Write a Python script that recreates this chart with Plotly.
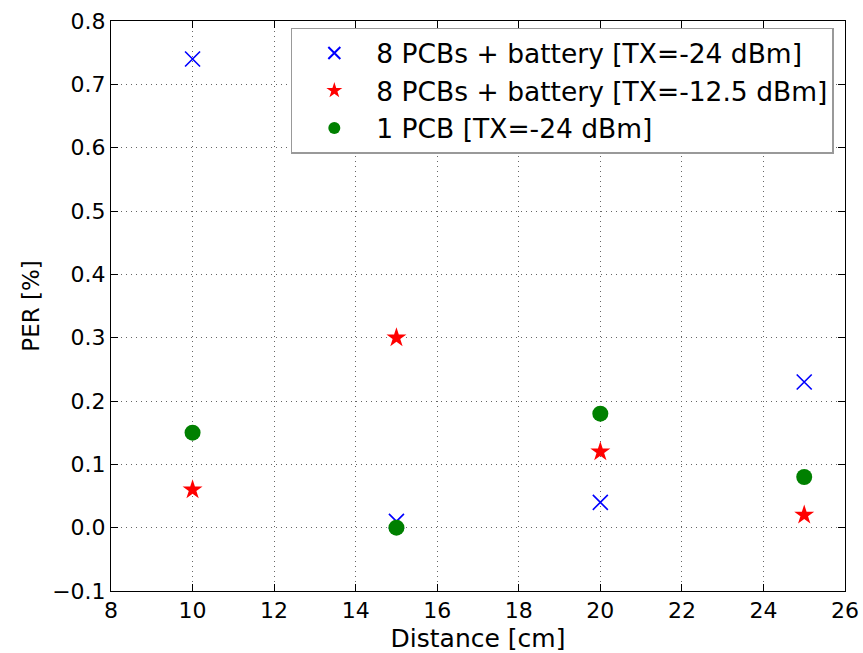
import plotly.graph_objects as go

distance = [10, 15, 20, 25]
per_8pcb_24 = [0.74, 0.01, 0.04, 0.23]
per_8pcb_125 = [0.06, 0.30, 0.12, 0.02]
per_1pcb_24 = [0.15, 0.00, 0.18, 0.08]

names = ["8 PCBs + battery [TX=-24 dBm]",
         "8 PCBs + battery [TX=-12.5 dBm]",
         "1 PCB [TX=-24 dBm]"]

fig = go.Figure()
fig.add_trace(go.Scatter(x=distance, y=per_8pcb_24, mode="markers", name=names[0],
                         legendgroup="a",
                         marker=dict(symbol="x-thin-open", size=15, color="#0000FF",
                                     line=dict(width=1.6, color="#0000FF"))))
fig.add_trace(go.Scatter(x=distance, y=per_8pcb_125, mode="markers", name=names[1],
                         legendgroup="b",
                         marker=dict(symbol="star", size=15, color="#FF0000",
                                     line=dict(width=0))))
fig.add_trace(go.Scatter(x=distance, y=per_1pcb_24, mode="markers", name=names[2],
                         legendgroup="c",
                         marker=dict(symbol="circle", size=16, color="#008000",
                                     line=dict(width=0))))

axis_common = dict(showline=True, linecolor="black", linewidth=1, mirror="allticks",
                   ticks="inside", ticklen=7, tickcolor="black", automargin=False,
                   showgrid=True, gridcolor="#666666", griddash="1px,4px", gridwidth=1,
                   zeroline=False, tickfont=dict(size=22, color="black",
                                                 family="DejaVu Sans"))

fig.update_xaxes(range=[8, 26], dtick=2,
                 title=dict(text="Distance [cm]", font=dict(size=25, family="DejaVu Sans"),
                            standoff=8),
                 **axis_common)
fig.update_yaxes(range=[-0.1, 0.8], dtick=0.1, tickformat=".1f",
                 title=dict(text="PER [%]", font=dict(size=23, family="DejaVu Sans"),
                            standoff=6),
                 **axis_common)

fig.update_layout(
    width=863, height=653,
    margin=dict(l=111, r=18, t=21, b=62, autoexpand=False),
    plot_bgcolor="white", paper_bgcolor="white",
    font=dict(family="DejaVu Sans", color="black", size=22),
    legend=dict(x=0.245, y=0.988, xanchor="left", yanchor="top",
                bgcolor="white", bordercolor="#999999", borderwidth=1.5,
                font=dict(size=26.5, family="DejaVu Sans"), itemsizing="constant",
                itemwidth=74, tracegroupgap=0),
)

fig.write_html("out.html")
